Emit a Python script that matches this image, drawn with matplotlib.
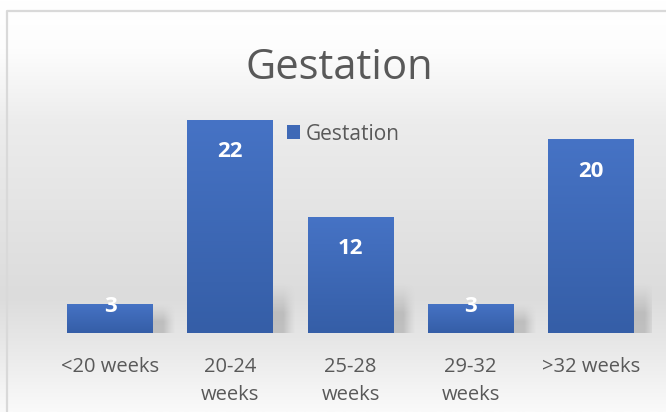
import numpy as np
import matplotlib
matplotlib.use("Agg")
import matplotlib.pyplot as plt
from matplotlib.colors import to_rgb
from matplotlib.lines import Line2D

# ---- data ----
categories = ["<20 weeks", "20-24\nweeks", "25-28\nweeks", "29-32\nweeks", ">32 weeks"]
values = [3, 22, 12, 3, 20]
series_name = "Gestation"
title_text = "Gestation"

plt.rcParams['font.family'] = ['Open Sans', 'DejaVu Sans']

W, H = 666, 412
fig = plt.figure(figsize=(W / 100, H / 100), dpi=100)

# ---- background gradient ----
bg = fig.add_axes([0, 0, 1, 1], zorder=-10)
bg.set_axis_off()
stops = [(0.0, "#ffffff"), (0.12, "#fdfdfd"), (0.30, "#ececec"),
         (0.72, "#dcdcdc"), (0.82, "#e6e6e6"), (1.0, "#fafafa")]
ys = np.linspace(0, 1, 400)
pos = [s[0] for s in stops]
cols = np.array([to_rgb(s[1]) for s in stops])
grad = np.stack([np.interp(ys, pos, cols[:, k]) for k in range(3)], axis=-1)
bg.imshow(grad[:, None, :], extent=(0, 1, 0, 1), aspect="auto", origin="upper")
bg.set_xlim(0, 1)
bg.set_ylim(0, 1)

# chart border (top and left)
bx = 6.5 / W
by = 1 - 11 / H
fig.add_artist(Line2D([bx, bx, 1.0], [0.0, by, by], transform=fig.transFigure,
                      color="#d9d9d9", lw=1.6, zorder=-5))

# ---- main axes ----
ax = fig.add_axes([50 / W, 1 - 333 / H, 601 / W, 242 / H])
ax.set_facecolor("none")
for s in ax.spines.values():
    s.set_visible(False)

x = np.arange(len(values))
bars = ax.bar(x, values, width=0.715, color="#3f69b6", zorder=3, label=series_name)

# gradient fill and soft shadow for each bar
top_c = np.array(to_rgb("#4673c5"))
bot_c = np.array(to_rgb("#355ea7"))
t = np.linspace(0, 1, 100)[:, None]
bar_grad = (top_c * (1 - t) + bot_c * t)[:, None, :]
for p in bars.patches:
    x0, y0 = p.get_x(), p.get_y()
    w, h = p.get_width(), p.get_height()
    im = ax.imshow(bar_grad, extent=(x0, x0 + w, y0, y0 + h), aspect="auto",
                   origin="upper", zorder=3.5)
    im.set_clip_path(p)
    # shadow to the right of the bar
    sw, sh = 0.19, min(h, 5.2)
    u = np.linspace(0, 1, 60)[None, :]
    v = np.linspace(1, 0, 60)[:, None]
    fu = np.clip((1 - u) / 0.55, 0, 1) ** 1.3
    fv = np.clip((1 - v) / 0.6, 0, 1) ** 1.3
    alpha = 0.32 * fu * fv
    shadow = np.zeros((60, 60, 4))
    shadow[..., :3] = 0.45
    shadow[..., 3] = alpha
    ax.imshow(shadow, extent=(x0 + w, x0 + w + sw, y0 - 0.1, y0 + sh),
              aspect="auto", origin="upper", zorder=2.5)

ax.set_xlim(-0.5, len(values) - 0.5)
ax.set_ylim(0, 25)

# data labels
for p, val in zip(bars.patches, values):
    off = -23 if val >= 5 else -1.5
    ax.annotate(str(val), xy=(p.get_x() + p.get_width() / 2, p.get_height()),
                xytext=(0, off), textcoords="offset points", ha="center", va="center",
                color="white", fontsize=16, fontweight="bold", zorder=5)

ax.set_yticks([])
ax.set_xticks(x)
ax.set_xticklabels(categories, fontsize=14.5, color="#595959", linespacing=1.5)
ax.tick_params(axis="x", length=0, pad=17.5)

# title
fig.text(339 / W, 1 - 79 / H, title_text, ha="center", va="baseline",
         fontsize=30, color="#595959")

# legend
leg = fig.legend(handles=[bars], labels=[series_name], loc="center left",
                 bbox_to_anchor=(287 / W, 1 - 134 / H), frameon=False,
                 fontsize=15, handlelength=0.62, handleheight=0.62,
                 handletextpad=0.3, borderpad=0, borderaxespad=0)
for txt in leg.get_texts():
    txt.set_color("#595959")

fig.savefig("out.png", dpi=100)
